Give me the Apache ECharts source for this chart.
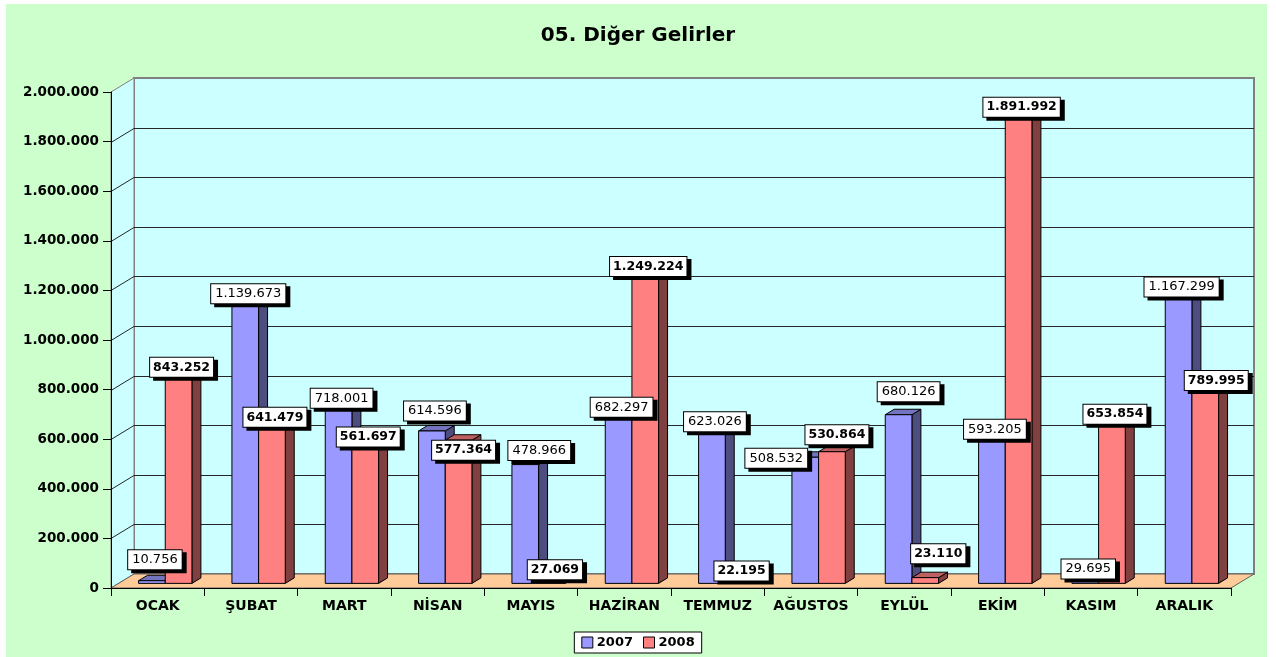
<!DOCTYPE html>
<html>
<head>
<meta charset="utf-8">
<script src="https://cdn.jsdelivr.net/npm/echarts@6/dist/echarts.min.js"></script>
<style>
  html, body { margin: 0; padding: 0; background: #ffffff; }
  #chart { width: 1276px; height: 657px; }
</style>
</head>
<body>
<div id="chart"></div>
<script>
// Monthly "other income" for 2007 and 2008
const categories = ['OCAK', 'ŞUBAT', 'MART', 'NİSAN', 'MAYIS', 'HAZİRAN', 'TEMMUZ', 'AĞUSTOS', 'EYLÜL', 'EKİM', 'KASIM', 'ARALIK'];
const values2007 = [10756, 1139673, 718001, 614596, 478966, 682297, 623026, 508532, 680126, 593205, 29695, 1167299];
const values2008 = [843252, 641479, 561697, 577364, 27069, 1249224, 22195, 530864, 23110, 1891992, 653854, 789995];
const yTicks = [0, 200000, 400000, 600000, 800000, 1000000, 1200000, 1400000, 1600000, 1800000, 2000000];
const seriesNames = ['2007', '2008'];

// Pseudo-3D look: depth vector of the plot box and where the columns sit inside it
const DEPTH = [23, -14];
const FACE = 0.33;   // front face of the columns, as a fraction of the depth
const BACK = 0.72;   // back face of the columns
const BAR_SHARE = 0.2857; // width of one column relative to the category band

const WALL = '#CCFFFF';
const FLOOR = '#FFCC99';
const OUTER = '#CCFFCC';
const FONT = '"DejaVu Sans", "Liberation Sans", Arial, sans-serif';

const PALETTES = [
  { front: '#9999FF', side: '#4D4D80', top: '#7373BF' },
  { front: '#FF8080', side: '#804040', top: '#BF6060' }
];

function fmt(v) {
  return String(v).replace(/\B(?=(\d{3})+(?!\d))/g, '.');
}

const yMax = yTicks[yTicks.length - 1];
const yStep = yTicks[1] - yTicks[0];

function wallsRender(params, api) {
  const cs = params.coordSys;
  const L = cs.x, R = cs.x + cs.width, T = cs.y, B = cs.y + cs.height;
  const dx = DEPTH[0], dy = DEPTH[1];
  const children = [
    { type: 'rect', shape: { x: L + dx, y: T + dy, width: R - L, height: B - T },
      style: { fill: WALL, stroke: '#808080', lineWidth: 2 } },
    { type: 'polygon', shape: { points: [[L, T], [L + dx, T + dy], [L + dx, B + dy], [L, B]] },
      style: { fill: WALL, stroke: '#808080', lineWidth: 1 } },
    { type: 'polygon', shape: { points: [[L, B], [R, B], [R + dx, B + dy], [L + dx, B + dy]] },
      style: { fill: FLOOR, stroke: '#606060', lineWidth: 1 } }
  ];
  yTicks.forEach(function (t) {
    if (t === 0 || t === yMax) return;
    const y = Math.round(api.coord([0, t])[1]) + 0.5;
    children.push({
      type: 'polyline',
      shape: { points: [[L, y], [L + dx, y + dy], [R + dx, y + dy]] },
      style: { stroke: '#262626', lineWidth: 1, fill: null }
    });
  });
  return { type: 'group', children: children };
}

function barGeometry(api, s) {
  const i = api.value(0), v = api.value(1);
  const band = api.size([1, 0])[0];
  const w = band * BAR_SHARE;
  const base = api.coord([i, 0]);
  const top = api.coord([i, v]);
  const x0 = base[0] + (s === 0 ? -w : 0) + DEPTH[0] * FACE;
  return {
    x0: x0, x1: x0 + w, w: w,
    yb: base[1] + DEPTH[1] * FACE,
    yt: top[1] + DEPTH[1] * FACE,
    ddx: DEPTH[0] * (BACK - FACE),
    ddy: DEPTH[1] * (BACK - FACE)
  };
}

function barRender(s) {
  const pal = PALETTES[s];
  return function (params, api) {
    const g = barGeometry(api, s);
    const line = { stroke: '#000', lineWidth: 1 };
    return {
      type: 'group',
      children: [
        { type: 'polygon',
          shape: { points: [[g.x1, g.yb], [g.x1, g.yt], [g.x1 + g.ddx, g.yt + g.ddy], [g.x1 + g.ddx, g.yb + g.ddy]] },
          style: Object.assign({ fill: pal.side }, line) },
        { type: 'polygon',
          shape: { points: [[g.x0, g.yt], [g.x1, g.yt], [g.x1 + g.ddx, g.yt + g.ddy], [g.x0 + g.ddx, g.yt + g.ddy]] },
          style: Object.assign({ fill: pal.top }, line) },
        { type: 'rect',
          shape: { x: g.x0, y: g.yt, width: g.w, height: g.yb - g.yt },
          style: Object.assign({ fill: pal.front }, line) }
      ]
    };
  };
}

// Callouts that are shifted so they do not collide with neighbours or the floor
const labelNudge = {
  '0-0': [0, -14],
  '0-3': [0, -13],
  '1-3': [2, 17],
  '0-4': [11, -7],
  '0-7': [-32, 8],
  '1-7': [2, -10],
  '0-8': [7, -16],
  '1-8': [10, -17],
  '1-11': [8, 0]
};

function labelRender(s) {
  const font = s === 0 ? ('normal 13px ' + FONT) : ('bold 12.5px ' + FONT);
  return function (params, api) {
    const g = barGeometry(api, s);
    const n = labelNudge[s + '-' + params.dataIndex] || [0, 0];
    return {
      type: 'text',
      x: (g.x0 + g.x1) / 2 + 3 + n[0],
      y: g.yt - 7 + n[1],
      style: {
        text: fmt(api.value(1)),
        x: 0, y: 0,
        align: 'center',
        verticalAlign: 'middle',
        font: font,
        fill: '#000',
        backgroundColor: '#ffffff',
        borderColor: '#000',
        borderWidth: 1,
        padding: s === 0 ? [3, 4, 3, 4] : [3, 3, 3, 3],
        shadowColor: '#000',
        shadowBlur: 0,
        shadowOffsetX: 4,
        shadowOffsetY: 3
      }
    };
  };
}

const seriesData = [values2007, values2008].map(function (arr) {
  return arr.map(function (v, i) { return [i, v]; });
});

const chart = echarts.init(document.getElementById('chart'), null, { renderer: 'canvas' });

chart.setOption({
  backgroundColor: '#ffffff',
  animation: false,
  graphic: [{
    type: 'rect', z: -10, silent: true,
    shape: { x: 6, y: 4, width: 1261, height: 653 },
    style: { fill: OUTER }
  }],
  title: {
    text: '05. Diğer Gelirler',
    left: 'center',
    top: 26,
    padding: 0,
    textStyle: { fontFamily: FONT, fontWeight: 'bold', fontSize: 20, color: '#000' }
  },
  legend: {
    data: seriesNames,
    left: 'center',
    top: 632,
    icon: 'rect',
    itemWidth: 11,
    itemHeight: 11,
    itemGap: 10,
    padding: [4, 7],
    backgroundColor: '#ffffff',
    borderColor: '#000',
    borderWidth: 1,
    itemStyle: { borderColor: '#000', borderWidth: 1 },
    textStyle: { fontFamily: FONT, fontWeight: 'bold', fontSize: 13, color: '#000', padding: [0, 0, 0, -1] }
  },
  grid: {
    left: 111, right: 45, top: 92, bottom: 69,
    containLabel: false,
    outerBoundsMode: 'none'
  },
  xAxis: {
    type: 'category',
    data: categories,
    z: 10,
    axisLine: { show: true, lineStyle: { color: '#000', width: 1 } },
    axisTick: { show: true, length: 8, interval: 0, lineStyle: { color: '#000' } },
    axisLabel: { interval: 0, margin: 11, fontFamily: FONT, fontWeight: 'bold', fontSize: 14, color: '#000' },
    splitLine: { show: false }
  },
  yAxis: {
    type: 'value',
    min: 0,
    max: yMax,
    interval: yStep,
    z: 10,
    axisLine: { show: true, lineStyle: { color: '#000', width: 1 } },
    axisTick: { show: true, length: 8, lineStyle: { color: '#000' } },
    axisLabel: { margin: 12, fontFamily: FONT, fontWeight: 'bold', fontSize: 13.5, color: '#000', formatter: fmt },
    splitLine: { show: false }
  },
  series: [
    { type: 'custom', name: 'walls', silent: true, z: 1, data: [[0, 0]], renderItem: wallsRender },
    { type: 'custom', name: seriesNames[0], z: 2, itemStyle: { color: PALETTES[0].front },
      data: seriesData[0], encode: { x: 0, y: 1 }, renderItem: barRender(0) },
    { type: 'custom', name: seriesNames[1], z: 3, itemStyle: { color: PALETTES[1].front },
      data: seriesData[1], encode: { x: 0, y: 1 }, renderItem: barRender(1) },
    { type: 'custom', name: 'labels2007', silent: true, z: 5,
      data: seriesData[0], encode: { x: 0, y: 1 }, renderItem: labelRender(0) },
    { type: 'custom', name: 'labels2008', silent: true, z: 6,
      data: seriesData[1], encode: { x: 0, y: 1 }, renderItem: labelRender(1) }
  ]
});
</script>
</body>
</html>
